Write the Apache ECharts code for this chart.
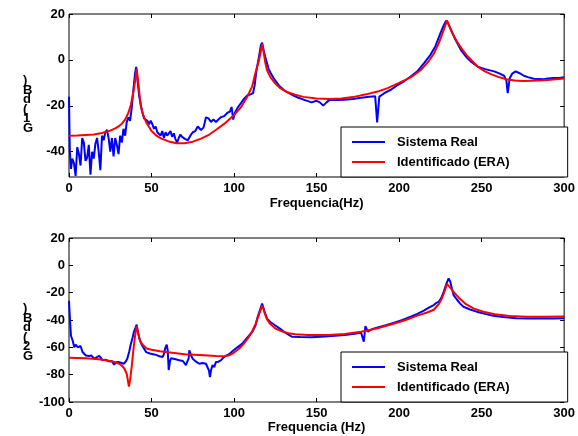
<!DOCTYPE html>
<html>
<head>
<meta charset="utf-8">
<script src="https://cdn.jsdelivr.net/npm/echarts@6/dist/echarts.min.js"></script>
<style>html,body{margin:0;padding:0;background:#fff}#c{width:578px;height:436px}</style>
</head>
<body>
<div id="c"></div>
<script>
// ---- Data ----
const seriesNames = ["Sistema Real", "Identificado (ERA)"];
const xTicks = [0, 50, 100, 150, 200, 250, 300];
const g1Ticks = [-40, -20, 0, 20];
const g2Ticks = [-100, -80, -60, -40, -20, 0, 20];

// G1: Sistema Real (measured)
const g1RealHz = [0,0.5,1.2,2,3,4,5,6,7,8,9,10,11,12,13,14,15,16,17,18,19,20,21,22,23,24,25,26,27,28,29,30,31,32,33,34,35,36,37,38,39,40,40.7,41.5,42.5,43.5,44.5,45.5,46.5,47.5,48.5,49.5,50.5,51.5,52.5,53.5,54.5,55.5,56.5,57.5,58.5,59.5,60.5,61.5,62.5,63.5,64.5,65.5,66.5,67.5,68.5,69.5,70.5,72,73.5,75,76.5,78,80,81.5,83,84.5,86,87.5,89,90.5,92,94,96,97.5,98.5,99.5,100.5,102,104,106,108,110,111.5,112.5,113.5,115,116.3,117,118,119,120,121,122,124,127,130,133,136,139,143,147,150,152,154,156,158,162,167,172,177,182,185.5,186.7,188,191,195,199,203,207,211,215,219,222,225,227,228.5,230,231.5,234,237.5,241,244,247.6,252,257.6,261,263.6,265,265.8,267,268.5,270.6,273,275.6,278,281.6,285,287.6,290,293.6,297,300];
const g1RealDb = [-16,-40,-47.5,-43,-45,-50.5,-38,-41,-46,-34,-36,-44,-42.5,-37,-50,-40,-43,-36.5,-34,-40,-48,-33,-35,-31.5,-30.5,-34,-40,-34,-42,-34,-37,-41,-33,-36,-30,-33,-27,-25,-26.5,-21,-13,-6,-3,-9,-15.5,-20,-23,-25.5,-26,-26.5,-28,-26.5,-28,-30,-29,-31.5,-31,-33,-31,-34,-31.5,-33,-32.5,-31,-33.5,-32,-34.5,-36,-34,-32.5,-33.5,-33,-34.5,-35,-33,-31.5,-31,-29,-30.5,-29.5,-25,-25.5,-27,-26,-27,-26,-25,-24.5,-23,-22.5,-20.5,-26,-23,-21,-19,-17,-15.5,-15,-14.5,-11,-5,1,6.5,7.5,4,1,-1.5,-4,-5.5,-8,-11,-13,-14.4,-15.5,-16.5,-17.5,-18.5,-17.8,-18.5,-19.9,-18.5,-17.3,-17.5,-17.3,-17,-16.5,-16,-15.8,-27.2,-16,-14.5,-13,-11,-9.3,-7.2,-5,-1.5,2.2,6,11.6,15,17.1,15.5,13,9,4.3,1,-1,-2.9,-4,-5,-6,-6.9,-9,-14.5,-8,-6,-5,-5.8,-6.9,-7.5,-8.2,-8.3,-8.4,-8.1,-7.9,-7.9,-7.5];

// G1: Identificado (ERA)
const g1EraHz = [0,5,10,15,20,25,28,30,32,34,36,37.5,39,40,41,42,43,44,45,47,50,53,56,60,65,70,75,80,85,90,95,100,104,108,111,113,114,115,116,117,118,119,120,122,125,128,132,137,142,150,158,165,172,180,187,193,200,207,213,218,221,224,226,228,229,230,232,235,238,241,245,248,252,256,260,265,270,275,280,285,290,295,300];
const g1EraDb = [-33,-32.9,-32.7,-32.5,-31.8,-30.8,-29.8,-29,-27.8,-26,-23,-19.5,-14,-9.5,-3.8,-10,-17,-21.5,-24,-27.5,-31,-33,-34.3,-35.4,-36.3,-36.3,-35.6,-34.3,-32.5,-30,-27.3,-24,-20.8,-16,-11.5,-5.5,-3,-0.5,3,7,3,-1.5,-4.5,-7.5,-10.3,-12.3,-14,-15.2,-16.1,-16.8,-17,-16.8,-16.2,-15,-13.8,-12.3,-10,-7.6,-4.5,-0.5,2.7,7.2,11,15,17.2,15.5,12,8,4.8,2,-1,-3.2,-5,-6.3,-7.4,-8.4,-9,-9.2,-9.1,-9,-8.7,-8.4,-8.1];

// G2: Sistema Real (measured)
const g2RealHz = [0,0.6,1.2,2.2,3.2,4,4.6,5.5,6.2,7,8.2,9.2,10.2,11.2,12.2,13.5,15.3,16.5,18.3,19.5,20.3,22,24.3,26,27.3,28.5,30.3,32,33.3,34.3,35.3,36.5,37.3,38.5,39.3,40.2,41,41.8,42.7,44,45.5,46.7,49,51,52.7,54.8,56.8,57.5,58.2,59.2,59.8,60.4,61.2,61.8,64,66.8,69,70.8,71.8,72.5,72.9,74,74.9,77,78.9,81,83,84,84.8,85.4,86.2,87,88,89,90.5,92,93.5,95,97,99,102,105,108,111,113,114,115.5,117,118.5,120,122,125,128,131,135,140,147,155,167,172,177,178.6,179.6,181,184,187,192,197,202,207,211,215,218,221,222.5,224,225.5,227,228.5,230,231,232,233,235,237,239,243,247,252,257,263,271,280,287,293,300];
const g2RealDb = [-26,-40,-51.5,-55,-60,-58,-57.5,-60,-61,-59,-63.4,-62.5,-66,-65,-66.3,-66,-68.3,-67,-66.3,-68,-69.5,-69,-70.3,-70,-72.7,-71,-70.8,-71.5,-72,-70.5,-68.3,-63,-58.5,-53,-48.8,-46,-43.4,-49,-54,-58,-61,-63.5,-64.5,-65,-65.5,-66.5,-67,-65,-61,-58.1,-62,-76.6,-70,-68,-68.5,-69.4,-70,-73,-74.4,-68,-62.2,-66,-68.3,-70.5,-72,-71.5,-72,-72.7,-77,-81.8,-76,-73,-74.5,-70.8,-70.5,-69.5,-67.5,-66.3,-65,-62.9,-60,-57.3,-53,-48.8,-44,-39,-33.5,-28,-34,-39,-41.5,-44,-46.5,-49.3,-52.2,-52.5,-52.6,-52,-51,-50.2,-49.3,-55.9,-44.5,-48.5,-46.5,-45.4,-43.8,-42,-40,-37.6,-35.5,-33.2,-31,-29.1,-27.5,-26.7,-24,-19.4,-14,-9.6,-12,-17,-21.8,-25,-28,-30.3,-32.3,-33.9,-35.5,-36.9,-37.8,-38.8,-38.9,-38.8,-38.9,-38.8];

// G2: Identificado (ERA)
const g2EraHz = [0,10,18,24,27,30,32,33.5,35,36.3,37,38,39,40,41,42,43,44.5,47,50,55,60,65,70,79,89,94,97,100,103,106,109,111,113,115,116,117,118,119,120,122,125,129,133,137,145,157,167,177,187,197,204,211,217,221,224,226,228,229,230,231.5,233,236,240,245,251,258,267,277,287,300];
const g2EraDb = [-67.6,-68,-68.8,-69.8,-70.6,-71.8,-73.3,-75.5,-79.5,-88.8,-84,-74,-62,-52,-44.5,-50,-55,-58,-60.8,-61.8,-62.8,-63.6,-64.3,-65,-65.6,-66.4,-66.5,-65.8,-63.8,-61,-57.2,-52.3,-48.2,-43,-36.5,-33,-29.5,-32.5,-36.5,-39.5,-43,-46.2,-48.3,-49.7,-50.4,-51,-51,-50.2,-48.6,-46,-42.6,-40,-36.8,-34.5,-32.5,-28.5,-24,-17.5,-13.5,-14.5,-17,-19.5,-23.5,-28,-31.5,-34,-35.8,-37.1,-37.6,-37.6,-37.5];

// ---- Chart ----
const zip = (xs, ys) => xs.map((x, i) => [x, ys[i]]);
const FONT = 'Liberation Sans, Arial, sans-serif';
const lbl = { fontFamily: FONT, fontWeight: 'bold', fontSize: 13, color: '#000' };

function xAx(grid, pos, show) {
  return {
    type: 'value', gridIndex: grid, position: pos, min: 0, max: 300, interval: 50,
    axisLine: { show: false, onZero: false }, splitLine: { show: false },
    axisTick: { show: true, inside: true, length: 4, lineStyle: { color: '#000', width: 1 } },
    axisLabel: Object.assign({ show: show, margin: 5 }, lbl)
  };
}
function yAx(grid, pos, show, min, max, ticks) {
  return {
    type: 'value', gridIndex: grid, position: pos, min: min, max: max,
    axisLine: { show: false, onZero: false }, splitLine: { show: false },
    axisTick: { show: true, inside: true, length: 4, customValues: ticks, lineStyle: { color: '#000', width: 1 } },
    axisLabel: Object.assign({ show: show, margin: 4, customValues: ticks }, lbl)
  };
}
function legendAt(top) {
  return {
    left: 341, top: top, orient: 'vertical', data: seriesNames,
    backgroundColor: '#fff', borderColor: '#000', borderWidth: 1, borderRadius: 0,
    padding: [8, 58, 8, 11], itemWidth: 33, itemHeight: 2, itemGap: 6, icon: 'rect',
    textStyle: Object.assign({ lineHeight: 14, padding: [0, 0, 0, 7] }, lbl)
  };
}
function line(name, data, color, xi, yi) {
  return { type: 'line', name: name, data: data, xAxisIndex: xi, yAxisIndex: yi,
    symbol: 'none', showSymbol: false, lineStyle: { color: color, width: 2 }, itemStyle: { color: color },
    animation: false, z: color === '#ff0000' ? 3 : 2 };
}

const chart = echarts.init(document.getElementById('c'));
chart.setOption({
  animation: false,
  backgroundColor: '#fff',
  grid: [
    { left: 69, right: 11, top: 14, height: 163, show: true, borderColor: '#000', borderWidth: 1, backgroundColor: 'transparent' },
    { left: 69, right: 11, top: 238, height: 164, show: true, borderColor: '#000', borderWidth: 1, backgroundColor: 'transparent' }
  ],
  xAxis: [
    Object.assign(xAx(0, 'bottom', true), { name: 'Frequencia(Hz)', nameLocation: 'middle', nameGap: 20, nameTextStyle: lbl }),
    xAx(0, 'top', false),
    Object.assign(xAx(1, 'bottom', true), { name: 'Frequencia (Hz)', nameLocation: 'middle', nameGap: 18, nameTextStyle: lbl }),
    xAx(1, 'top', false)
  ],
  yAxis: [
    yAx(0, 'left', true, -51, 20, g1Ticks),
    yAx(0, 'right', false, -51, 20, g1Ticks),
    yAx(1, 'left', true, -100, 20, g2Ticks),
    yAx(1, 'right', false, -100, 20, g2Ticks)
  ],
  legend: [legendAt(127), legendAt(352)],
  series: [
    line(seriesNames[0], zip(g1RealHz, g1RealDb), '#0000ff', 0, 0),
    line(seriesNames[1], zip(g1EraHz, g1EraDb), '#ff0000', 0, 0),
    line(seriesNames[0], zip(g2RealHz, g2RealDb), '#0000ff', 2, 2),
    line(seriesNames[1], zip(g2EraHz, g2EraDb), '#ff0000', 2, 2)
  ],
  graphic: [
    { type: 'text', left: 23, top: 74, style: { text: ')\nB\nd\n(\n1\nG', font: 'bold 13px ' + FONT, lineHeight: 9.5, align: 'center', fill: '#000' } },
    { type: 'text', left: 23, top: 302, style: { text: ')\nB\nd\n(\n2\nG', font: 'bold 13px ' + FONT, lineHeight: 9.5, align: 'center', fill: '#000' } }
  ]
});
</script>
</body>
</html>
